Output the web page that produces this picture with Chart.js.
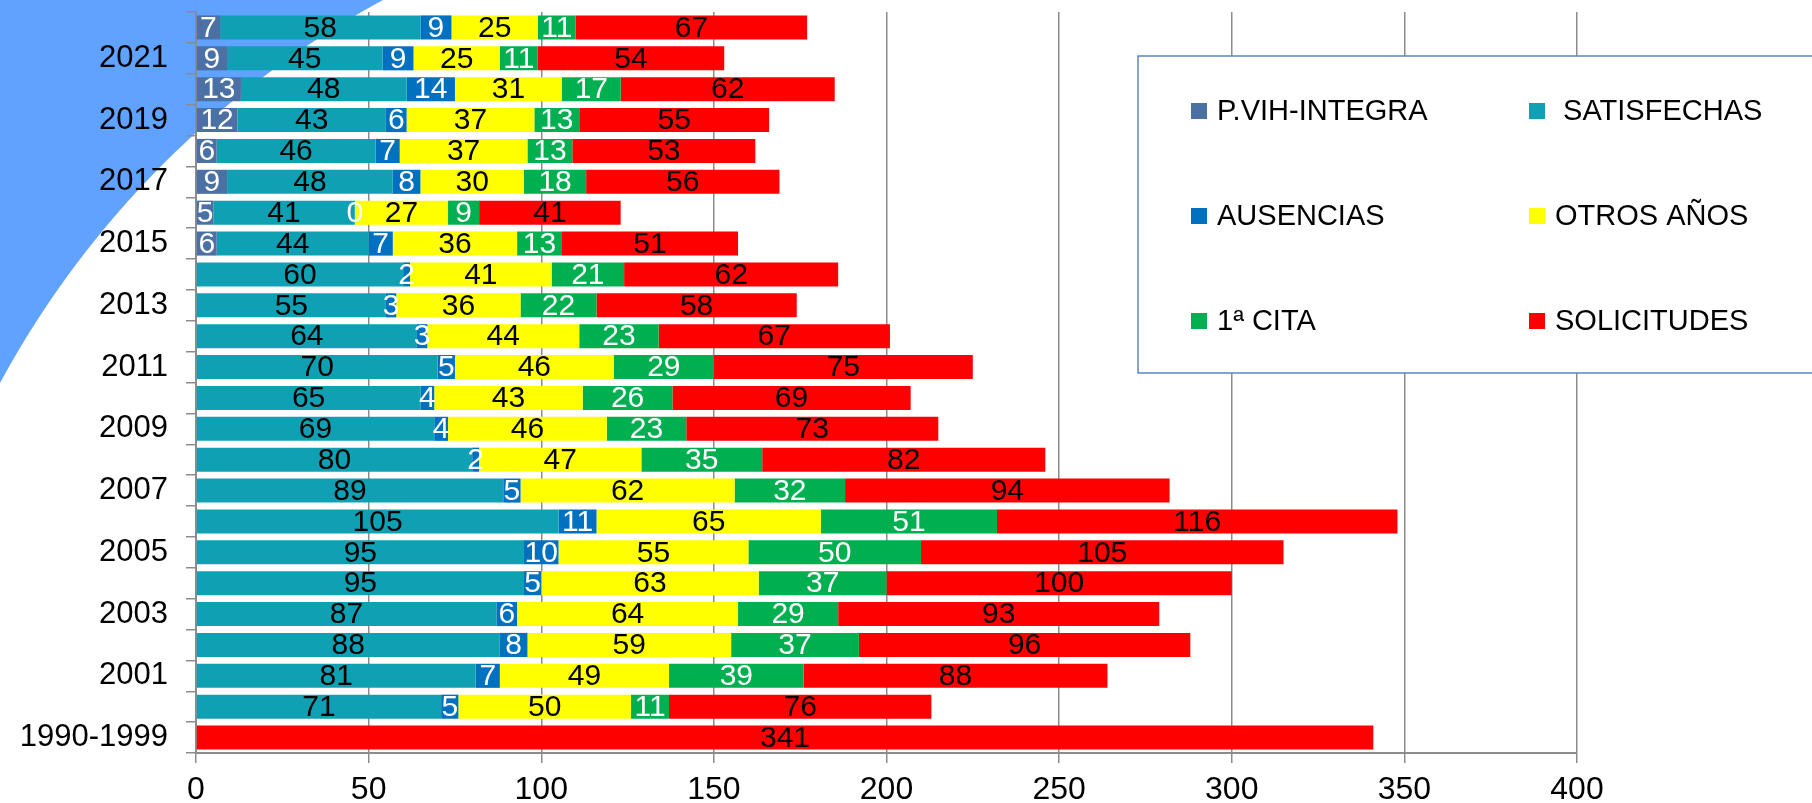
<!DOCTYPE html>
<html>
<head>
<meta charset="utf-8">
<script src="https://cdn.jsdelivr.net/npm/chart.js@4/dist/chart.umd.min.js"></script>
<style>
	html, body {
		margin: 0;
		padding: 0;
	}
	body {
		width: 1812px;
		height: 803px;
		overflow: hidden;
		background:
			linear-gradient(to right, rgba(255, 255, 255, 0) 835px, #ffffff 835px),
			radial-gradient(circle 950px at 835px 835px, #ffffff 949px, #5fa2ff 950px);
	}
	#wrap {
		position: relative;
		width: 1812px;
		height: 803px;
	}
</style>
</head>
<body>
<div id="wrap"><canvas id="chart"></canvas></div>
<script>
	// Years (bottom to top)
	const years = ["1990-1999", "2000", "2001", "2002", "2003", "2004", "2005", "2006", "2007", "2008", "2009", "2010", "2011", "2012", "2013", "2014", "2015", "2016", "2017", "2018", "2019", "2020", "2021", "2022"];

	const pvih = [null, null, null, null, null, null, null, null, null, null, null, null, null, null, null, null, 6, 5, 9, 6, 12, 13, 9, 7];
	const satisfechas = [null, 71, 81, 88, 87, 95, 95, 105, 89, 80, 69, 65, 70, 64, 55, 60, 44, 41, 48, 46, 43, 48, 45, 58];
	const ausencias = [null, 5, 7, 8, 6, 5, 10, 11, 5, 2, 4, 4, 5, 3, 3, 2, 7, 0, 8, 7, 6, 14, 9, 9];
	const otrosAnos = [null, 50, 49, 59, 64, 63, 55, 65, 62, 47, 46, 43, 46, 44, 36, 41, 36, 27, 30, 37, 37, 31, 25, 25];
	const primeraCita = [null, 11, 39, 37, 29, 37, 50, 51, 32, 35, 23, 26, 29, 23, 22, 21, 13, 9, 18, 13, 13, 17, 11, 11];
	const solicitudes = [341, 76, 88, 96, 93, 100, 105, 116, 94, 82, 73, 69, 75, 67, 58, 62, 51, 41, 56, 53, 55, 62, 54, 67];

	const xTicks = [0, 50, 100, 150, 200, 250, 300, 350, 400];

	const font = "'Liberation Sans', Arial, sans-serif";

	// Numbers inside each bar segment
	const barLabels = {
		id: "barLabels",
		afterDatasetsDraw(chart) {
			const ctx = chart.ctx;
			ctx.save();
			ctx.font = "30px " + font;
			ctx.textAlign = "center";
			ctx.textBaseline = "middle";
			chart.data.datasets.forEach((ds, i) => {
				const meta = chart.getDatasetMeta(i);
				meta.data.forEach((bar, j) => {
					const v = ds.data[j];
					if (v === null) return;
					const p = bar.getProps(["x", "y", "base"], true);
					ctx.fillStyle = ds.labelColor;
					ctx.fillText(String(v), (p.x + p.base) / 2, p.y + 1);
				});
			});
			ctx.restore();
		},
	};

	// Boxed legend sitting over the right part of the plot
	const boxLegend = {
		id: "boxLegend",
		afterDraw(chart) {
			const ctx = chart.ctx;
			ctx.save();
			ctx.fillStyle = "#ffffff";
			ctx.fillRect(1138, 56, 700, 317);
			ctx.strokeStyle = "#5b86c5";
			ctx.lineWidth = 1.5;
			ctx.strokeRect(1138, 56, 700, 317);
			ctx.font = "29px " + font;
			ctx.textBaseline = "middle";
			ctx.textAlign = "left";
			chart.data.datasets.forEach((ds, i) => {
				const col = i % 2;
				const row = Math.floor(i / 2);
				const x = col === 0 ? 1191 : 1529;
				const y = 111 + row * 105;
				ctx.fillStyle = ds.backgroundColor;
				ctx.fillRect(x, y - 8, 16, 16);
				ctx.fillStyle = "#000000";
				ctx.fillText(ds.label, x + 26, y + 1);
			});
			ctx.restore();
		},
	};

	new Chart(document.getElementById("chart"), {
		type: "bar",
		data: {
			labels: years,
			datasets: [
				{ label: "P.VIH-INTEGRA", data: pvih, backgroundColor: "#4a70a4", labelColor: "#ffffff" },
				{ label: " SATISFECHAS", data: satisfechas, backgroundColor: "#10a0b4", labelColor: "#000000" },
				{ label: "AUSENCIAS", data: ausencias, backgroundColor: "#0070c0", labelColor: "#ffffff" },
				{ label: "OTROS AÑOS", data: otrosAnos, backgroundColor: "#ffff00", labelColor: "#000000" },
				{ label: "1ª CITA", data: primeraCita, backgroundColor: "#00b050", labelColor: "#ffffff" },
				{ label: "SOLICITUDES", data: solicitudes, backgroundColor: "#ff0000", labelColor: "#000000" },
			],
		},
		options: {
			indexAxis: "y",
			responsive: true,
			maintainAspectRatio: false,
			animation: false,
			datasets: {
				bar: {
					barPercentage: 0.78,
					categoryPercentage: 1,
				},
			},
			layout: {
				padding: { top: 12, right: 235, left: 0, bottom: 0 },
			},
			plugins: {
				legend: { display: false },
				tooltip: { enabled: false },
			},
			scales: {
				x: {
					stacked: true,
					min: 0,
					max: 400,
					afterBuildTicks(scale) {
						scale.ticks = xTicks.map((v) => ({ value: v }));
					},
					afterFit(scale) {
						scale.height = 50;
					},
					grid: {
						color: "#8c8c8c",
						lineWidth: 1.5,
						tickLength: 10,
					},
					border: { color: "#8c8c8c", width: 2 },
					ticks: {
						color: "#000000",
						font: { family: font, size: 32 },
						padding: 8,
					},
				},
				y: {
					stacked: true,
					reverse: true,
					afterFit(scale) {
						scale.width = 196;
						scale.paddingTop = 0;
						scale.paddingBottom = 0;
					},
					grid: {
						drawOnChartArea: false,
						offset: true,
						color: "#8c8c8c",
						lineWidth: 1.5,
						tickLength: 10,
					},
					border: { color: "#8c8c8c", width: 2 },
					ticks: {
						autoSkip: false,
						color: "#000000",
						font: { family: font, size: 31 },
						padding: 18,
						callback: function (value, index) {
							return index % 2 === 0 ? years[index] : "";
						},
					},
				},
			},
		},
		plugins: [barLabels, boxLegend],
	});
</script>
</body>
</html>
